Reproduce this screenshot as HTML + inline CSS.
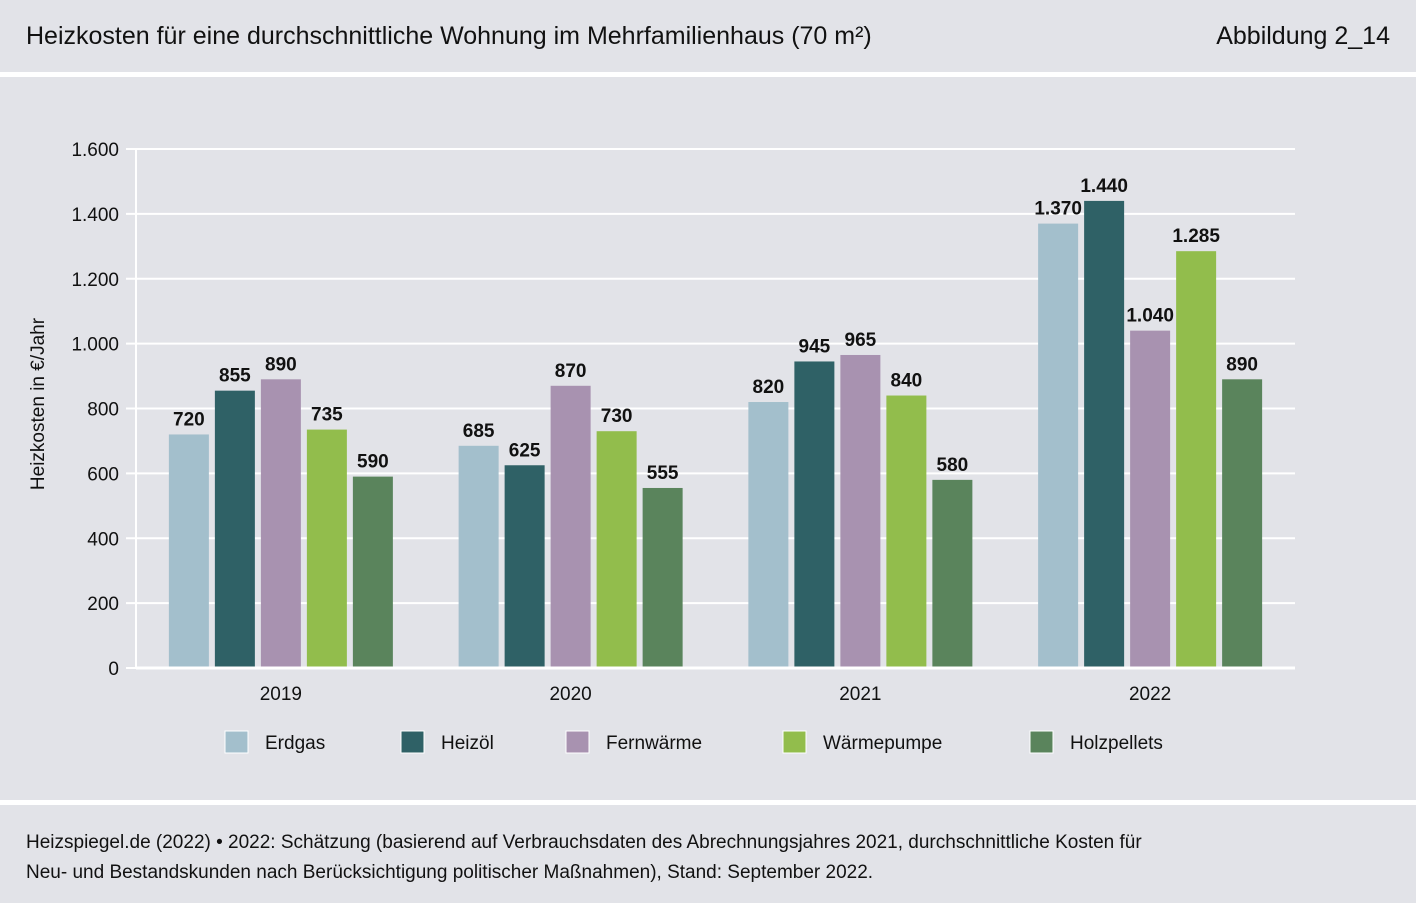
<!DOCTYPE html>
<html><head><meta charset="utf-8"><style>
body{margin:0;width:1416px;height:903px;background:#e2e3e8;font-family:"Liberation Sans",sans-serif;color:#111;overflow:hidden;position:relative}
.t{position:absolute}
</style></head><body>
<div class="t" style="left:26px;top:22px;font-size:25px">Heizkosten für eine durchschnittliche Wohnung im Mehrfamilienhaus (70 m²)</div>
<div class="t" style="right:26px;top:22px;font-size:25px">Abbildung 2_14</div>
<div class="t" style="left:0;top:72px;width:1416px;height:5px;background:#fff"></div>
<div class="t" style="left:0;top:800px;width:1416px;height:5px;background:#fff"></div>
<div class="t" style="left:26px;top:828px;font-size:19px;line-height:30px">Heizspiegel.de (2022) • 2022: Schätzung (basierend auf Verbrauchsdaten des Abrechnungsjahres 2021, durchschnittliche Kosten für<br>Neu- und Bestandskunden nach Berücksichtigung politischer Maßnahmen), Stand: September 2022.</div>
<svg class="t" style="left:0;top:0" width="1416" height="903">
<text transform="translate(44,404) rotate(-90)" text-anchor="middle" font-size="19" font-family="Liberation Sans" fill="#111">Heizkosten in €/Jahr</text>
<g id="g"></g></svg>
<script>
const categories=["2019","2020","2021","2022"];
const seriesNames=["Erdgas","Heizöl","Fernwärme","Wärmepumpe","Holzpellets"];
const colors=["#a3bfcc","#2f6166","#a892b0","#92bd4c","#5a845c"];
const erdgas=[720,685,820,1370];
const heizoel=[855,625,945,1440];
const fernwaerme=[890,870,965,1040];
const waermepumpe=[735,730,840,1285];
const holzpellets=[590,555,580,890];
const series=[erdgas,heizoel,fernwaerme,waermepumpe,holzpellets];
const yTicks=[0,200,400,600,800,1000,1200,1400,1600];
const NS="http://www.w3.org/2000/svg",g=document.getElementById('g');
const y0=668,yTop=149,yMax=1600,xL=136,xR=1295;
const y=v=>y0-(v/yMax)*(y0-yTop);
const gw=(xR-xL)/categories.length;
const gx=i=>xL+gw*(i+0.5);
function mk(t,a){const e=document.createElementNS(NS,t);for(const k in a)e.setAttribute(k,a[k]);g.appendChild(e);return e;}
const fmt=v=>v.toLocaleString('de-DE');
yTicks.forEach(v=>{
 const l=mk('line',{x1:126,x2:xR,y1:y(v),y2:y(v),stroke:'#fff','stroke-width':2});
 
 
 const t=mk('text',{x:119,y:y(v)+7,'text-anchor':'end','font-size':19,fill:'#111'});t.textContent=fmt(v);
 
 
});
const ax=mk('line',{x1:xL,x2:xL,y1:yTop-1,y2:y0,stroke:'#fff','stroke-width':2});


const bw=40,step=46;
categories.forEach((c,i)=>{
 const cx=gx(i);
 series.forEach((s,j)=>{
  const x=cx+(j-2)*step-bw/2;
  const r=mk('rect',{x:x,y:y(s[i]),width:bw,height:y0-y(s[i]),fill:colors[j]});
  
  
  const t=mk('text',{x:x+bw/2,y:y(s[i])-9,'text-anchor':'middle','font-size':19,'font-weight':'bold',fill:'#111'});t.textContent=fmt(s[i]);
  
  
 });
 const t=mk('text',{x:cx,y:700,'text-anchor':'middle','font-size':19,fill:'#111'});t.textContent=c;
 
 
});
const xa=mk('line',{x1:xL,x2:xR,y1:y0,y2:y0,stroke:'#fff','stroke-width':3});


const legX=[225,401,566,783,1030];
seriesNames.forEach((n,j)=>{
 const r=mk('rect',{x:legX[j],y:731,width:23,height:22,fill:colors[j],stroke:'#fff','stroke-width':1});
 
 
 const t=mk('text',{x:legX[j]+40,y:749,'font-size':19,fill:'#111'});t.textContent=n;
 
 
});
</script>
</body></html>
